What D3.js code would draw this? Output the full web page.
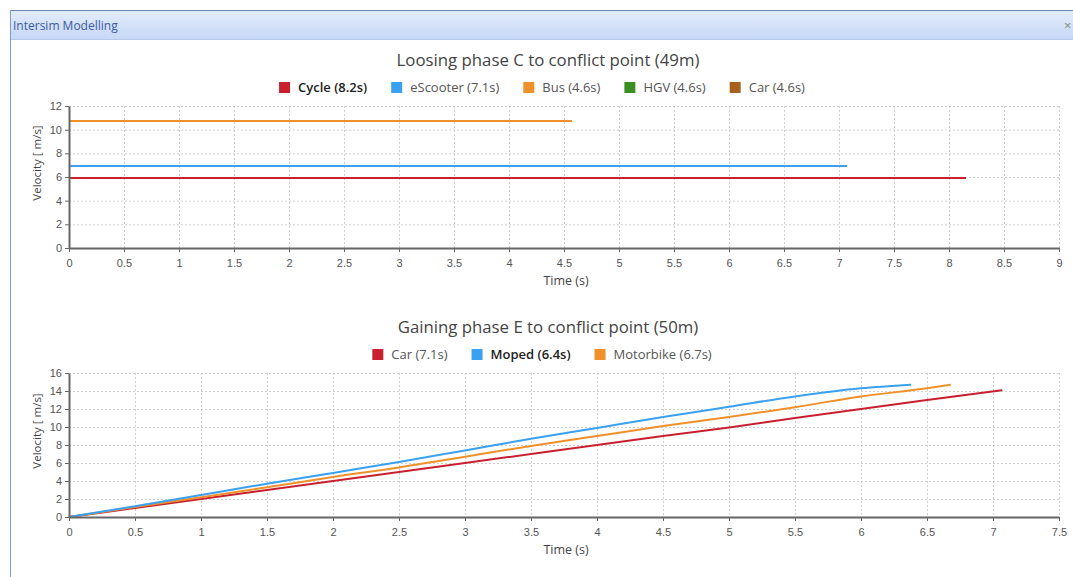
<!DOCTYPE html>
<html>
<head>
<meta charset="utf-8">
<script src="https://cdn.jsdelivr.net/npm/d3@7"></script>
<style>
  body { margin: 0; background: #fff; }
  svg { display: block; font-family: "Open Sans", "Noto Sans", sans-serif; }
  .tick text { fill: #555; font-size: 11px; }
  .grid line { stroke: #cfcfcf; stroke-dasharray: 2,2; }
  .axis path, .axis line { stroke: #666; }
</style>
</head>
<body>
<div id="graphic"></div>
<script>
// top chart: constant speeds
var topNames = ["Cycle (8.2s)", "eScooter (7.1s)", "Bus (4.6s)", "HGV (4.6s)", "Car (4.6s)"];
var topBold = [true, false, false, false, false];
var topColors = ["#c8202f", "#3aa0f0", "#f0902a", "#3b8e22", "#a8601c"];
var topEnd = [8.15, 7.07, 4.57, 4.57, 4.57];
var topVel = [5.95, 6.9, 10.7, 10.7, 10.7];
var topXTicks = [0, 0.5, 1, 1.5, 2, 2.5, 3, 3.5, 4, 4.5, 5, 5.5, 6, 6.5, 7, 7.5, 8, 8.5, 9];
var topYTicks = [0, 2, 4, 6, 8, 10, 12];

// bottom chart: accelerating
var botNames = ["Car (7.1s)", "Moped (6.4s)", "Motorbike (6.7s)"];
var botBold = [false, true, false];
var botColors = ["#c8202f", "#3aa0f0", "#f0902a"];
var carT = [0, 0.5, 1, 1.5, 2, 2.5, 3, 3.5, 4, 4.5, 5, 5.5, 6, 6.5, 7.07];
var carV = [0, 1.0, 2.0, 3.0, 4.0, 5.0, 6.0, 7.0, 8.0, 9.0, 9.95, 11.0, 12.0, 13.0, 14.1];
var mopedT = [0, 0.5, 1, 1.5, 2, 2.5, 3, 3.5, 4, 4.5, 5, 5.5, 6, 6.38];
var mopedV = [0, 1.2, 2.45, 3.7, 4.9, 6.1, 7.4, 8.7, 9.9, 11.1, 12.25, 13.4, 14.3, 14.7];
var motoT = [0, 0.5, 1, 1.5, 2, 2.5, 3, 3.5, 4, 4.5, 5, 5.5, 6, 6.5, 6.68];
var motoV = [0, 1.1, 2.2, 3.3, 4.45, 5.5, 6.7, 7.9, 9.0, 10.1, 11.1, 12.2, 13.4, 14.3, 14.7];
var botXTicks = [0, 0.5, 1, 1.5, 2, 2.5, 3, 3.5, 4, 4.5, 5, 5.5, 6, 6.5, 7, 7.5];
var botYTicks = [0, 2, 4, 6, 8, 10, 12, 14, 16];

var width = 1073, height = 577;

var svg = d3.select("#graphic")
  .append("svg")
  .attr("width", width)
  .attr("height", height);

// window frame
var grad = svg.append("defs").append("linearGradient")
  .attr("id", "bar").attr("x1", 0).attr("y1", 0).attr("x2", 0).attr("y2", 1);
grad.append("stop").attr("offset", "0%").attr("stop-color", "#e3ecfb");
grad.append("stop").attr("offset", "100%").attr("stop-color", "#c6d8f6");

svg.append("rect").attr("x", 10).attr("y", 10).attr("width", width - 10).attr("height", 29)
  .attr("fill", "url(#bar)");
svg.append("line").attr("x1", 10).attr("x2", width).attr("y1", 10.5).attr("y2", 10.5)
  .attr("stroke", "#6d87b5");
svg.append("line").attr("x1", 10).attr("x2", width).attr("y1", 39.5).attr("y2", 39.5)
  .attr("stroke", "#b5c8ea");
svg.append("line").attr("x1", 10.5).attr("x2", 10.5).attr("y1", 10).attr("y2", height)
  .attr("stroke", "#7e9bd0");
svg.append("text").attr("x", 13).attr("y", 30).text("Intersim Modelling")
  .attr("font-size", "12px").attr("fill", "#3b5aa0");
svg.append("text").attr("x", 1064).attr("y", 30).text("×")
  .attr("font-size", "13px").attr("fill", "#888");

function drawChart(opt){
  var x = d3.scaleLinear().domain([0, opt.xMax]).range([69, 1059]);
  var y = d3.scaleLinear().domain([0, opt.yMax]).range([opt.y0, opt.y1]);

  var g = svg.append("g");

  // grid
  g.append("g").attr("class", "grid")
    .selectAll("line.v").data(opt.xTicks.slice(1)).enter().append("line")
    .attr("x1", function(d){ return x(d) + 0.5; }).attr("x2", function(d){ return x(d) + 0.5; })
    .attr("y1", opt.y1).attr("y2", opt.y0);
  g.append("g").attr("class", "grid")
    .selectAll("line.h").data(opt.yTicks.slice(1)).enter().append("line")
    .attr("x1", 69).attr("x2", 1059)
    .attr("y1", function(d){ return y(d) + 0.5; }).attr("y2", function(d){ return y(d) + 0.5; });

  // title
  g.append("text").attr("x", 548).attr("y", opt.y1 - 40)
    .attr("text-anchor", "middle").attr("font-size", "16.8px").attr("fill", "#444")
    .text(opt.title);

  // legend
  var legend = g.append("g");
  var lx = 0;
  opt.names.forEach(function(n, i){
    var item = legend.append("g").attr("transform", "translate(" + lx + ",0)");
    item.append("rect").attr("x", 0).attr("y", -10).attr("width", 11).attr("height", 11)
      .attr("fill", opt.colors[i]);
    var t = item.append("text").attr("x", 19).attr("y", 0)
      .attr("font-size", "13px").attr("fill", opt.bold[i] ? "#222" : "#555")
      .attr("font-weight", opt.bold[i] ? "600" : "normal")
      .text(n);
    lx += 19 + t.node().getComputedTextLength() + 24;
  });
  lx -= 24;
  legend.attr("transform", "translate(" + (opt.legendCx - lx / 2) + "," + (opt.y1 - 14) + ")");

  // lines
  var line = d3.line().x(function(d){ return x(d[0]); }).y(function(d){ return y(d[1]); })
    .curve(d3.curveMonotoneX);
  opt.series.forEach(function(s){
    g.append("path").datum(s.pts).attr("d", line)
      .attr("fill", "none").attr("stroke", s.color).attr("stroke-width", 2)
      .attr("shape-rendering", opt.crisp ? "crispEdges" : "auto");
  });

  // axes
  var xa = g.append("g").attr("class", "axis").attr("transform", "translate(0," + opt.y0 + ")")
    .call(d3.axisBottom(x).tickValues(opt.xTicks).tickSize(4).tickSizeOuter(0).tickFormat(d3.format("")));
  xa.select(".domain").attr("stroke-width", 2);
  xa.selectAll("text").attr("dy", "1.1em");
  var ya = g.append("g").attr("class", "axis").attr("transform", "translate(69,0)")
    .call(d3.axisLeft(y).tickValues(opt.yTicks).tickSize(4).tickSizeOuter(0).tickFormat(d3.format("")));
  ya.select(".domain").attr("stroke-width", 2);

  g.append("text").attr("x", 566).attr("y", opt.y0 + 37).attr("text-anchor", "middle")
    .attr("font-size", "12.5px").attr("fill", "#444").text("Time (s)");
  g.append("text").attr("transform", "translate(41," + ((opt.y0 + opt.y1) / 2 - 14) + ") rotate(-90)")
    .attr("text-anchor", "middle").attr("font-size", "11.5px").attr("fill", "#444")
    .text("Velocity [ m/s]");
}

var topSeries = [];
// draw the 4.6s group under the bus so orange is on top
[4, 3, 2, 1, 0].forEach(function(i){
  topSeries.push({color: topColors[i], pts: [[0, topVel[i]], [topEnd[i], topVel[i]]]});
});

drawChart({
  title: "Loosing phase C to conflict point (49m)",
  names: topNames, bold: topBold, colors: topColors, legendCx: 542,
  xMax: 9, yMax: 12, y0: 248, y1: 106, crisp: true,
  xTicks: topXTicks, yTicks: topYTicks,
  series: topSeries
});

drawChart({
  title: "Gaining phase E to conflict point (50m)",
  names: botNames, bold: botBold, colors: botColors, legendCx: 542,
  xMax: 7.5, yMax: 16, y0: 517, y1: 373, crisp: false,
  xTicks: botXTicks, yTicks: botYTicks,
  series: [
    {color: botColors[0], pts: d3.zip(carT, carV)},
    {color: botColors[2], pts: d3.zip(motoT, motoV)},
    {color: botColors[1], pts: d3.zip(mopedT, mopedV)}
  ]
});
</script>
</body>
</html>
